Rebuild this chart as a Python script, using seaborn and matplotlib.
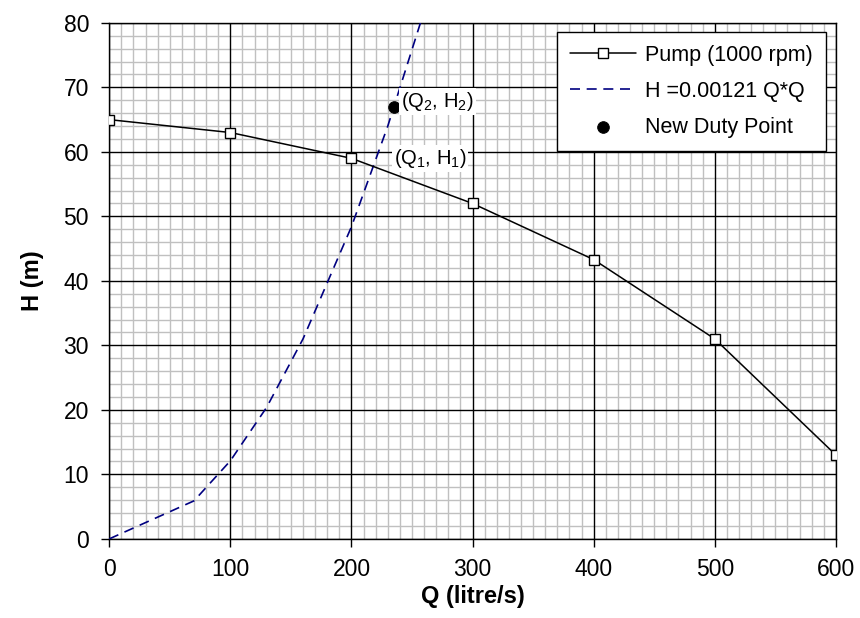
import matplotlib
matplotlib.use("Agg")
import matplotlib.pyplot as plt
import seaborn as sns
from matplotlib.ticker import MultipleLocator

# Pump curve at 1000 rpm
pump_q = [0, 100, 200, 300, 400, 500, 600]
pump_h = [65.0, 63.0, 59.0, 52.0, 43.3, 31.0, 13.0]

# System curve H = 0.00121 Q*Q
sys_q = [0, 70, 100, 130, 160, 200, 230, 260]
sys_h = [0.0, 5.9, 12.1, 20.4, 31.0, 48.4, 64.0, 81.8]

# New duty point
duty_q = [235]
duty_h = [67]

sns.set_style("white")
plt.rcParams["font.family"] = ["Liberation Sans", "DejaVu Sans"]
plt.rcParams["mathtext.fontset"] = "custom"
plt.rcParams["mathtext.rm"] = "Liberation Sans"
plt.rcParams["mathtext.it"] = "Liberation Sans:italic"
for k in ["text.color", "axes.labelcolor", "xtick.color", "ytick.color"]:
    plt.rcParams[k] = "black"

fig, ax = plt.subplots(figsize=(8.6, 6.18), dpi=100)
fig.subplots_adjust(left=0.127, right=0.972, bottom=0.128, top=0.963)

sns.lineplot(x=pump_q, y=pump_h, ax=ax, color="black", lw=1.1, marker="s",
             markersize=6.5, markerfacecolor="white", markeredgecolor="black",
             markeredgewidth=1.0, label="Pump (1000 rpm)", zorder=4)
sns.lineplot(x=sys_q, y=sys_h, ax=ax, color="#000080", lw=1.2,
             label="H =0.00121 Q*Q", zorder=3)
ax.lines[-1].set_dashes([6, 4])
sns.scatterplot(x=duty_q, y=duty_h, ax=ax, color="black", s=70,
                edgecolor="black", label="New Duty Point", zorder=5)

ax.set_xlim(0, 600)
ax.set_ylim(0, 80)
ax.xaxis.set_major_locator(MultipleLocator(100))
ax.xaxis.set_minor_locator(MultipleLocator(10))
ax.yaxis.set_major_locator(MultipleLocator(10))
ax.yaxis.set_minor_locator(MultipleLocator(2))
# light minor grid, black major grid drawn on top of it
ax.grid(which="minor", color="#c0c0c0", lw=1.0)
ax.grid(which="major", visible=False)
ax.set_axisbelow(True)
ax.vlines(ax.get_xticks(), 0, 80, color="black", lw=1.0, zorder=1)
ax.hlines(ax.get_yticks(), 0, 600, color="black", lw=1.0, zorder=1)
ax.set_xlim(0, 600)
ax.set_ylim(0, 80)

ax.tick_params(which="major", direction="out", length=5.5, width=1,
               labelsize=16.5, color="black", bottom=True, left=True)
ax.tick_params(axis="x", which="major", pad=8)
ax.tick_params(axis="y", which="major", pad=9)
ax.tick_params(which="minor", length=0)
for s in ax.spines.values():
    s.set_color("black")
    s.set_linewidth(1.0)

ax.set_xlabel("Q (litre/s)", fontsize=17, fontweight="bold", labelpad=3)
ax.set_ylabel("H (m)", fontsize=17, fontweight="bold", labelpad=14)

box = dict(facecolor="white", edgecolor="none", pad=1.5)
ax.text(241, 67.8, "(Q$_2$, H$_2$)", fontsize=14.5, va="center", ha="left",
        bbox=box, zorder=6)
ax.text(235, 58.9, "(Q$_1$, H$_1$)", fontsize=14.5, va="center", ha="left",
        bbox=box, zorder=6)

leg = ax.legend(loc="upper right", bbox_to_anchor=(0.986, 0.983), fontsize=15.5,
                frameon=True, fancybox=False, edgecolor="black",
                framealpha=1, borderpad=0.6, labelspacing=0.7,
                handlelength=3.1, handletextpad=0.4, borderaxespad=0)
leg.get_frame().set_linewidth(1.0)
leg.set_zorder(10)

plt.savefig("out.png", dpi=100)
